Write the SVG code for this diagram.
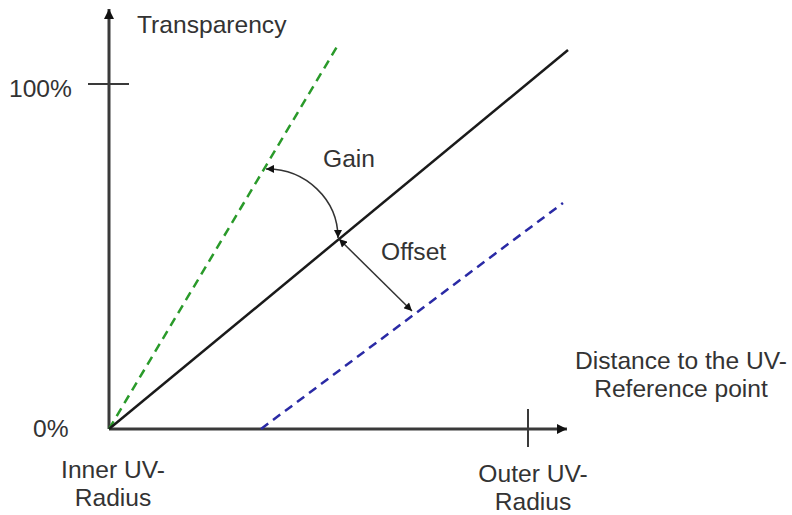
<svg xmlns="http://www.w3.org/2000/svg" width="792" height="515" viewBox="0 0 792 515">
  <defs>
    <style>
      .lbl { font-family: "Liberation Sans", Arial, sans-serif; font-size: 24.6px; fill: #333; }
      .axis { stroke: #3a3a3a; stroke-width: 3; fill: none; }
      .tick { stroke: #3a3a3a; stroke-width: 2; fill: none; }
      .main { stroke: #1a1a1a; stroke-width: 2.5; fill: none; }
      .green { stroke: #2a9a2a; stroke-width: 2.5; fill: none; stroke-dasharray: 9 6; }
      .blue { stroke: #2a2aa5; stroke-width: 2.5; fill: none; stroke-dasharray: 9 6; }
      .thin { stroke: #333; stroke-width: 1.5; fill: none; }
    </style>
    <marker id="axisHead" viewBox="0 0 10 10" refX="10" refY="5" markerWidth="10" markerHeight="14" markerUnits="userSpaceOnUse" orient="auto">
      <path d="M0,0 L10,5 L0,10 Z" fill="#111"/>
    </marker>
    <marker id="smallHead" viewBox="0 0 10 10" refX="10" refY="5" markerWidth="9" markerHeight="8" markerUnits="userSpaceOnUse" orient="auto-start-reverse">
      <path d="M0,0 L10,5 L0,10 Z" fill="#111"/>
    </marker>
  </defs>

  <g id="axes">
    <path class="axis" d="M109,429 L109,9" marker-end="url(#axisHead)"/>
    <path class="axis" d="M109,429 L567,429" marker-end="url(#axisHead)"/>
    <path class="tick" d="M88,84 L129,84"/>
    <path class="tick" d="M528,409 L528,447"/>
  </g>

  <g id="lines">
    <path class="green" d="M109,429 L338,45"/>
    <path class="main" d="M109,429 L568,50"/>
    <path class="blue" d="M261,429 L563,203"/>
  </g>

  <g id="connectors">
    <path id="gain-arc" class="thin" d="M266,169 A71,69 0 0 1 338,238" marker-start="url(#smallHead)" marker-end="url(#smallHead)"/>
    <path id="offset-arrow" class="thin" d="M339,239 L412,311" marker-start="url(#smallHead)" marker-end="url(#smallHead)"/>
  </g>

  <g id="labels">
    <text class="lbl" x="137" y="33">Transparency</text>
    <text class="lbl" x="9" y="97">100%</text>
    <text class="lbl" x="33" y="437">0%</text>
    <text class="lbl" x="323" y="167">Gain</text>
    <text class="lbl" x="381" y="260">Offset</text>
    <text class="lbl" x="681" y="369" text-anchor="middle">Distance to the UV-</text>
    <text class="lbl" x="681" y="397" text-anchor="middle">Reference point</text>
    <text class="lbl" x="113" y="478" text-anchor="middle">Inner UV-</text>
    <text class="lbl" x="113" y="506" text-anchor="middle">Radius</text>
    <text class="lbl" x="533" y="482" text-anchor="middle">Outer UV-</text>
    <text class="lbl" x="533" y="510" text-anchor="middle">Radius</text>
  </g>
</svg>
